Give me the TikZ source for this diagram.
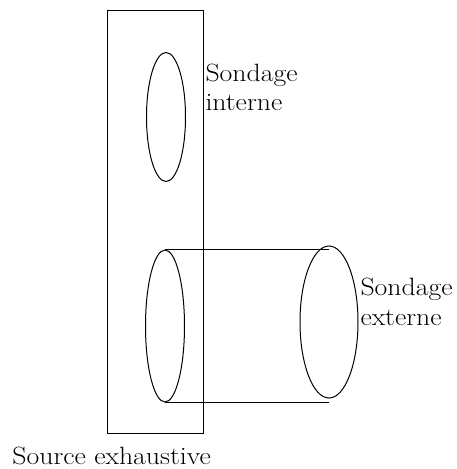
\documentclass[tikz,border=0pt]{standalone}
\usepackage{graphicx}
\usetikzlibrary{shapes.geometric}
\newcommand{\widetxt}[1]{\scalebox{1.11}[1]{#1}}
\begin{document}
\begin{tikzpicture}[x=1pt,y=-1pt,line width=1pt,
  lbl/.style={anchor=base west,inner sep=0pt,font=\rmfamily\fontsize{25}{29}\selectfont}]
\useasboundingbox (0,0) rectangle (456,469);
\node[draw,minimum width=96pt,minimum height=423pt,inner sep=0pt] (box) at (155,221.5) {};
\node[draw,ellipse,minimum width=39pt,minimum height=129pt,inner sep=0pt] (e1) at (166,117) {};
\node[draw,ellipse,minimum width=39pt,minimum height=152pt,inner sep=0pt] (e2) at (165,326) {};
\node[draw,ellipse,minimum width=58pt,minimum height=152pt,inner sep=0pt] (e3) at (329,322) {};
\draw (e2.north) -- (e2.north -| e3.north);
\draw (e2.south) -- (e2.south -| e3.south);
\node[lbl] (t1) at (205,81) {\widetxt{Sondage}};
\node[lbl] (t2) at (205,110) {\widetxt{interne}};
\node[lbl] (t3) at (360,295) {\widetxt{Sondage}};
\node[lbl] (t4) at (360,325) {\widetxt{externe}};
\node[lbl] (t5) at (12,464) {\widetxt{Source exhaustive}};
\end{tikzpicture}
\end{document}
